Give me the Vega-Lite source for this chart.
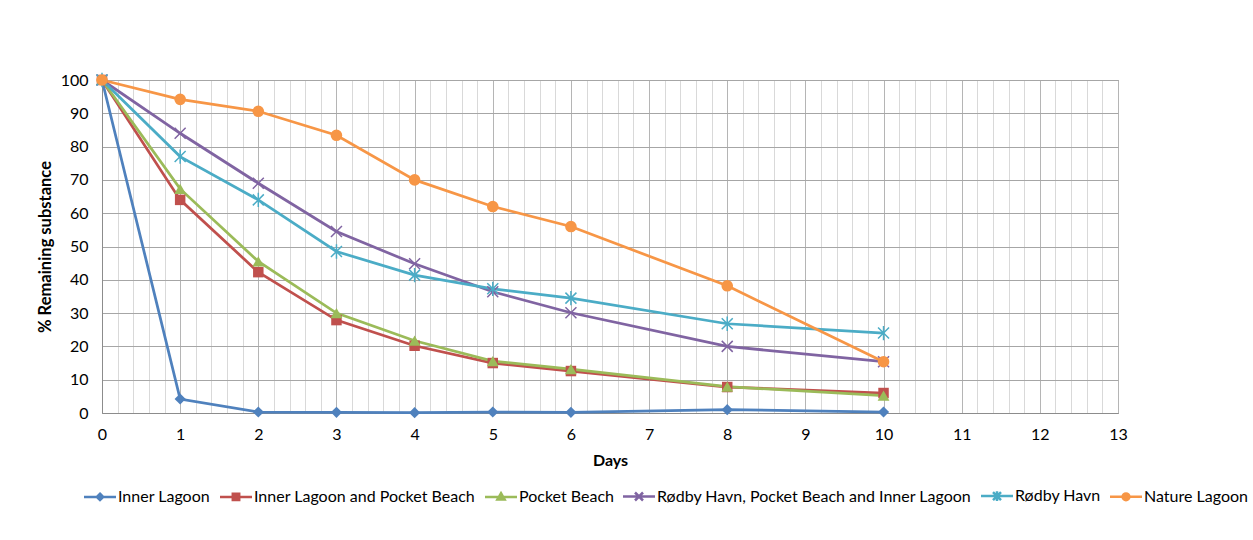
{
  "$schema": "https://vega.github.io/schema/vega-lite/v6.json",
  "width": 1016,
  "height": 333,
  "autosize": "none",
  "padding": {"left": 102, "top": 80, "right": 135, "bottom": 127},
  "background": "white",
  "config": {
    "font": "Lato",
    "view": {"stroke": "#8c8c8c", "strokeWidth": 1}
  },
  "data": {
    "values": [
      {"series": "Inner Lagoon", "day": 0, "value": 100},
      {"series": "Inner Lagoon", "day": 1, "value": 4.2},
      {"series": "Inner Lagoon", "day": 2, "value": 0.3},
      {"series": "Inner Lagoon", "day": 3, "value": 0.2},
      {"series": "Inner Lagoon", "day": 4, "value": 0.1},
      {"series": "Inner Lagoon", "day": 5, "value": 0.3},
      {"series": "Inner Lagoon", "day": 6, "value": 0.2},
      {"series": "Inner Lagoon", "day": 8, "value": 1.0},
      {"series": "Inner Lagoon", "day": 10, "value": 0.3},
      {"series": "Inner Lagoon and Pocket Beach", "day": 0, "value": 100},
      {"series": "Inner Lagoon and Pocket Beach", "day": 1, "value": 64},
      {"series": "Inner Lagoon and Pocket Beach", "day": 2, "value": 42.3},
      {"series": "Inner Lagoon and Pocket Beach", "day": 3, "value": 27.9},
      {"series": "Inner Lagoon and Pocket Beach", "day": 4, "value": 20.2},
      {"series": "Inner Lagoon and Pocket Beach", "day": 5, "value": 15},
      {"series": "Inner Lagoon and Pocket Beach", "day": 6, "value": 12.6},
      {"series": "Inner Lagoon and Pocket Beach", "day": 8, "value": 7.8},
      {"series": "Inner Lagoon and Pocket Beach", "day": 10, "value": 6},
      {"series": "Pocket Beach", "day": 0, "value": 100},
      {"series": "Pocket Beach", "day": 1, "value": 67.3},
      {"series": "Pocket Beach", "day": 2, "value": 45.5},
      {"series": "Pocket Beach", "day": 3, "value": 30},
      {"series": "Pocket Beach", "day": 4, "value": 21.7},
      {"series": "Pocket Beach", "day": 5, "value": 15.6},
      {"series": "Pocket Beach", "day": 6, "value": 13.2},
      {"series": "Pocket Beach", "day": 8, "value": 7.9},
      {"series": "Pocket Beach", "day": 10, "value": 5.2},
      {"series": "Rødby Havn, Pocket Beach and Inner Lagoon", "day": 0, "value": 100},
      {"series": "Rødby Havn, Pocket Beach and Inner Lagoon", "day": 1, "value": 84},
      {"series": "Rødby Havn, Pocket Beach and Inner Lagoon", "day": 2, "value": 69},
      {"series": "Rødby Havn, Pocket Beach and Inner Lagoon", "day": 3, "value": 54.5},
      {"series": "Rødby Havn, Pocket Beach and Inner Lagoon", "day": 4, "value": 44.8},
      {"series": "Rødby Havn, Pocket Beach and Inner Lagoon", "day": 5, "value": 36.4},
      {"series": "Rødby Havn, Pocket Beach and Inner Lagoon", "day": 6, "value": 30.1},
      {"series": "Rødby Havn, Pocket Beach and Inner Lagoon", "day": 8, "value": 20},
      {"series": "Rødby Havn, Pocket Beach and Inner Lagoon", "day": 10, "value": 15.4},
      {"series": "Rødby Havn", "day": 0, "value": 100},
      {"series": "Rødby Havn", "day": 1, "value": 77},
      {"series": "Rødby Havn", "day": 2, "value": 64},
      {"series": "Rødby Havn", "day": 3, "value": 48.5},
      {"series": "Rødby Havn", "day": 4, "value": 41.4},
      {"series": "Rødby Havn", "day": 5, "value": 37.3},
      {"series": "Rødby Havn", "day": 6, "value": 34.5},
      {"series": "Rødby Havn", "day": 8, "value": 26.8},
      {"series": "Rødby Havn", "day": 10, "value": 24},
      {"series": "Nature Lagoon", "day": 0, "value": 100},
      {"series": "Nature Lagoon", "day": 1, "value": 94.2},
      {"series": "Nature Lagoon", "day": 2, "value": 90.6},
      {"series": "Nature Lagoon", "day": 3, "value": 83.4},
      {"series": "Nature Lagoon", "day": 4, "value": 70},
      {"series": "Nature Lagoon", "day": 5, "value": 62},
      {"series": "Nature Lagoon", "day": 6, "value": 56},
      {"series": "Nature Lagoon", "day": 8, "value": 38.2},
      {"series": "Nature Lagoon", "day": 10, "value": 15.4}
    ]
  },
  "encoding": {
    "x": {
      "field": "day",
      "type": "quantitative",
      "scale": {"domain": [0, 13], "nice": false, "zero": false},
      "axis": {
        "title": "Days",
        "titleFontSize": 16,
        "titleFontWeight": "bold",
        "titleColor": "#000",
        "titlePadding": 10,
        "values": [0,0.2,0.4,0.6,0.8,1,1.2,1.4,1.6,1.8,2,2.2,2.4,2.6,2.8,3,3.2,3.4,3.6,3.8,4,4.2,4.4,4.6,4.8,5,5.2,5.4,5.6,5.8,6,6.2,6.4,6.6,6.8,7,7.2,7.4,7.6,7.8,8,8.2,8.4,8.6,8.8,9,9.2,9.4,9.6,9.8,10,10.2,10.4,10.6,10.8,11,11.2,11.4,11.6,11.8,12,12.2,12.4,12.6,12.8,13],
        "labelExpr": "abs(datum.value - round(datum.value)) < 0.001 ? format(round(datum.value), 'd') : ''",
        "labelFontSize": 16,
        "labelColor": "#000",
        "labelPadding": 13,
        "labelFlush": false,
        "labelOverlap": false,
        "ticks": false,
        "domainColor": "#8c8c8c",
        "grid": true,
        "gridColor": {"condition": {"test": "abs(datum.value - round(datum.value)) < 0.001", "value": "#b5b5b5"}, "value": "#d9d9d9"},
        "gridWidth": 1
      }
    },
    "y": {
      "field": "value",
      "type": "quantitative",
      "scale": {"domain": [0, 100], "nice": false},
      "axis": {
        "title": "% Remaining substance",
        "titleFontSize": 16.5,
        "titleFontWeight": "bold",
        "titleColor": "#000",
        "titlePadding": 7,
        "values": [0,10,20,30,40,50,60,70,80,90,100],
        "labelFontSize": 16,
        "labelColor": "#000",
        "labelPadding": 14,
        "ticks": false,
        "domainColor": "#8c8c8c",
        "grid": true,
        "gridColor": "#a6a6a6"
      }
    },
    "color": {
      "field": "series",
      "type": "nominal",
      "scale": {
        "domain": ["Inner Lagoon", "Inner Lagoon and Pocket Beach", "Pocket Beach", "Rødby Havn, Pocket Beach and Inner Lagoon", "Rødby Havn", "Nature Lagoon"],
        "range": ["#4F81BD", "#C0504D", "#9BBB59", "#8064A2", "#4BACC6", "#F79646"]
      },
      "legend": {
        "title": null,
        "orient": "none",
        "legendX": -10,
        "legendY": 408,
        "direction": "horizontal",
        "columns": 6,
        "padding": 0,
        "labelFontSize": 16,
        "labelColor": "#000",
        "labelOffset": 10,
        "columnPadding": 4,
        "symbolSize": 16,
        "symbolStrokeWidth": 2.5,
        "symbolOpacity": 1,
        "labelLimit": 400
      }
    }
  },
  "layer": [
    {
      "mark": {"type": "line", "strokeWidth": 2.75}
    },
    {
      "transform": [{"filter": "datum.series === 'Inner Lagoon'"}],
      "mark": {"type": "point", "shape": "diamond", "filled": true, "size": 125, "opacity": 1}
    },
    {
      "transform": [{"filter": "datum.series === 'Inner Lagoon and Pocket Beach'"}],
      "mark": {"type": "point", "shape": "square", "filled": true, "size": 110, "opacity": 1}
    },
    {
      "transform": [{"filter": "datum.series === 'Pocket Beach'"}],
      "mark": {"type": "point", "shape": "triangle-up", "filled": true, "size": 140, "opacity": 1}
    },
    {
      "transform": [{"filter": "datum.series === 'Rødby Havn, Pocket Beach and Inner Lagoon'"}],
      "mark": {"type": "point", "shape": "M-1,-1L1,1M-1,1L1,-1", "filled": false, "size": 121, "strokeWidth": 1.5, "opacity": 1}
    },
    {
      "transform": [{"filter": "datum.series === 'Rødby Havn'"}],
      "mark": {"type": "point", "shape": "M-1,-1L1,1M-1,1L1,-1M0,-1.3L0,1.3", "filled": false, "size": 121, "strokeWidth": 1.5, "opacity": 1}
    },
    {
      "transform": [{"filter": "datum.series === 'Nature Lagoon'"}],
      "mark": {"type": "point", "shape": "circle", "filled": true, "size": 135, "opacity": 1}
    },
    {
      "transform": [{"filter": "datum.day < 0"}],
      "mark": {"type": "point", "filled": true, "size": 16, "strokeWidth": 2.5, "opacity": 1},
      "encoding": {
        "stroke": {
          "field": "series",
          "type": "nominal",
          "scale": {
            "domain": ["Inner Lagoon", "Inner Lagoon and Pocket Beach", "Pocket Beach", "Rødby Havn, Pocket Beach and Inner Lagoon", "Rødby Havn", "Nature Lagoon"],
            "range": ["#4F81BD", "#C0504D", "#9BBB59", "#8064A2", "#4BACC6", "#F79646"]
          },
          "legend": {
            "title": null,
            "orient": "none",
            "legendX": -10,
            "legendY": 408,
            "direction": "horizontal",
            "columns": 6,
            "padding": 0,
            "labelFontSize": 16,
            "labelColor": "#000",
            "labelOffset": 10,
            "columnPadding": 4,
            "symbolSize": 16,
            "symbolStrokeWidth": 2.5,
            "symbolOpacity": 1,
            "labelLimit": 400
          }
        },
        "shape": {
          "field": "series",
          "type": "nominal",
          "scale": {
            "domain": ["Inner Lagoon", "Inner Lagoon and Pocket Beach", "Pocket Beach", "Rødby Havn, Pocket Beach and Inner Lagoon", "Rødby Havn", "Nature Lagoon"],
            "range": [
              "M-8,0L8,0M0,-1.6L1.6,0L0,1.6L-1.6,0Z",
              "M-8,0L8,0M-1.6,-1.6L1.6,-1.6L1.6,1.6L-1.6,1.6Z",
              "M-8,0L8,0M0,-1.9L1.8,1.2L-1.8,1.2Z",
              "M-8,0L8,0M-2,-2L2,2M-2,2L2,-2",
              "M-8,0L8,0M-2,-2L2,2M-2,2L2,-2M0,-2.4L0,2.4",
              "M-8,0L8,0M-1.7,0A1.7,1.7 0 1,0 1.7,0A1.7,1.7 0 1,0 -1.7,0Z"
            ]
          },
          "legend": {
            "title": null,
            "orient": "none",
            "legendX": -10,
            "legendY": 408,
            "direction": "horizontal",
            "columns": 6,
            "padding": 0,
            "labelFontSize": 16,
            "labelColor": "#000",
            "labelOffset": 10,
            "columnPadding": 4,
            "symbolSize": 16,
            "symbolStrokeWidth": 2.5,
            "symbolOpacity": 1,
            "labelLimit": 400
          }
        }
      }
    }
  ]
}
